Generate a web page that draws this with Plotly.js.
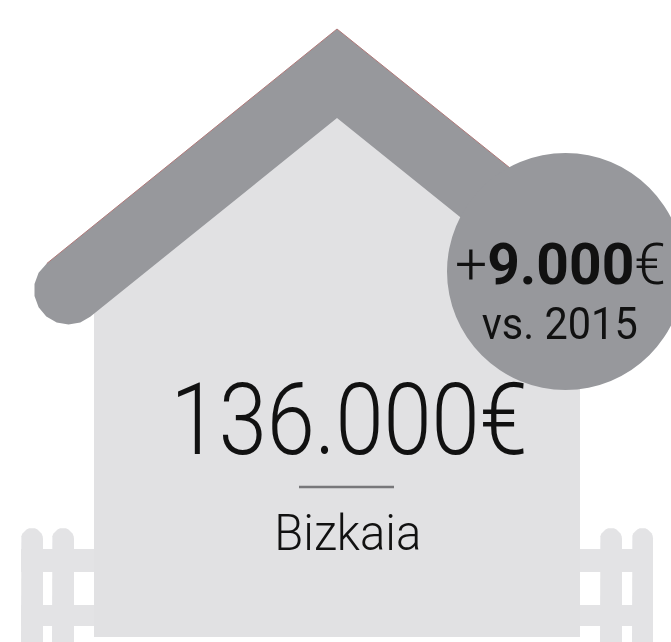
<!DOCTYPE html>
<html>
<head>
<meta charset="utf-8">
<script src="https://cdn.plot.ly/plotly-3.0.1.min.js"></script>
<style>html,body{margin:0;padding:0;background:#fff;overflow:hidden}#chart{width:671px;height:642px;filter:blur(0.6px)}</style>
</head>
<body>
<div id="chart"></div>
<script>
var houseX = [94, 94, 337, 580, 580];
var houseY = [637, 300, 100, 290, 637];
var roofX = [337, 510, 470, 337, 90.2, 80.3, 68.5, 56.7, 46.3, 38.6, 34.5, 34.5, 38.6, 46.8];
var roofY = [29, 168, 225, 118, 316.8, 322.4, 324.5, 322.4, 316.4, 307.2, 296, 284, 272.8, 263.5];
var edgeX = [46.8, 337, 510];
var edgeY = [263.5, 29, 168];
var picketLeft = [21, 52, 600, 632];
var picketRight = [43, 74, 622, 653];
var picketTop = 528;
var railX = [[21, 94], [21, 94], [580, 653], [580, 653]];
var railY = [[549, 572], [605, 626], [549, 572], [605, 626]];
var dividerX = [299, 394];
var dividerY = [487, 487];
var badge = {cx: 565.5, cy: 271.5, r: 118.5};

var colours = {house: '#e1e1e3', fence: '#e3e3e5', roof: '#97989c', edge: '#b07a7a', rule: '#77777a', ink: '#111111'};

function poly(x, y, color) {
  return {type: 'scatter', mode: 'lines', x: x, y: y, fill: 'toself', fillcolor: color,
          line: {width: 0, color: color}, hoverinfo: 'skip', showlegend: false};
}
var traces = [poly(houseX, houseY, colours.house)];
picketLeft.forEach(function (l, i) {
  var r = picketRight[i], rad = (r - l) / 2, x = [l], y = [642];
  for (var a = 180; a >= 0; a -= 15) {
    x.push(l + rad + rad * Math.cos(a * Math.PI / 180));
    y.push(picketTop + rad - rad * Math.sin(a * Math.PI / 180));
  }
  x.push(r); y.push(642);
  traces.push(poly(x, y, colours.fence));
});
railX.forEach(function (rx, i) {
  var ry = railY[i];
  traces.push(poly([rx[0], rx[1], rx[1], rx[0]], [ry[0], ry[0], ry[1], ry[1]], colours.fence));
});
traces.push(poly(roofX, roofY, colours.roof));
traces.push({type: 'scatter', mode: 'lines', x: edgeX, y: edgeY, line: {color: colours.edge, width: 1}, hoverinfo: 'skip', showlegend: false});
traces.push({type: 'scatter', mode: 'lines', x: dividerX, y: dividerY, line: {color: colours.rule, width: 2.5}, hoverinfo: 'skip', showlegend: false});

var layout = {
  width: 671, height: 642, margin: {l: 0, r: 0, t: 0, b: 0},
  paper_bgcolor: '#fff', plot_bgcolor: '#fff', showlegend: false,
  xaxis: {range: [0, 671], visible: false, fixedrange: true},
  yaxis: {range: [642, 0], visible: false, fixedrange: true},
  shapes: [{type: 'circle', xref: 'x', yref: 'y', layer: 'above',
    x0: badge.cx - badge.r, x1: badge.cx + badge.r, y0: badge.cy - badge.r, y1: badge.cy + badge.r,
    fillcolor: colours.roof, line: {width: 0}}],
  annotations: [
    {text: '136.000€', x: 348.5, y: 419, font: {family: 'Roboto', size: 100, weight: 300, color: colours.ink}},
    {text: 'Bizkaia', x: 347.5, y: 533, font: {family: 'Roboto', size: 50, weight: 300, color: colours.ink}},
    {text: '+<b>9.000</b>€', x: 560.5, y: 264, font: {family: 'Roboto', size: 58, weight: 300, color: colours.ink}},
    {text: 'vs. 2015', x: 559, y: 324, font: {family: 'Roboto', size: 44, color: colours.ink}}
  ].map(function (a) {
    return Object.assign({xref: 'x', yref: 'y', showarrow: false, xanchor: 'center', yanchor: 'middle'}, a);
  })
};
var textWidths = [357, 147, 211, 156];
Plotly.newPlot('chart', traces, layout, {displayModeBar: false, staticPlot: true}).then(function () {
  document.querySelectorAll('#chart .annotation-text').forEach(function (el, i) {
    el.setAttribute('textLength', textWidths[i]);
    el.setAttribute('lengthAdjust', 'spacingAndGlyphs');
  });
});
</script>
</body>
</html>
